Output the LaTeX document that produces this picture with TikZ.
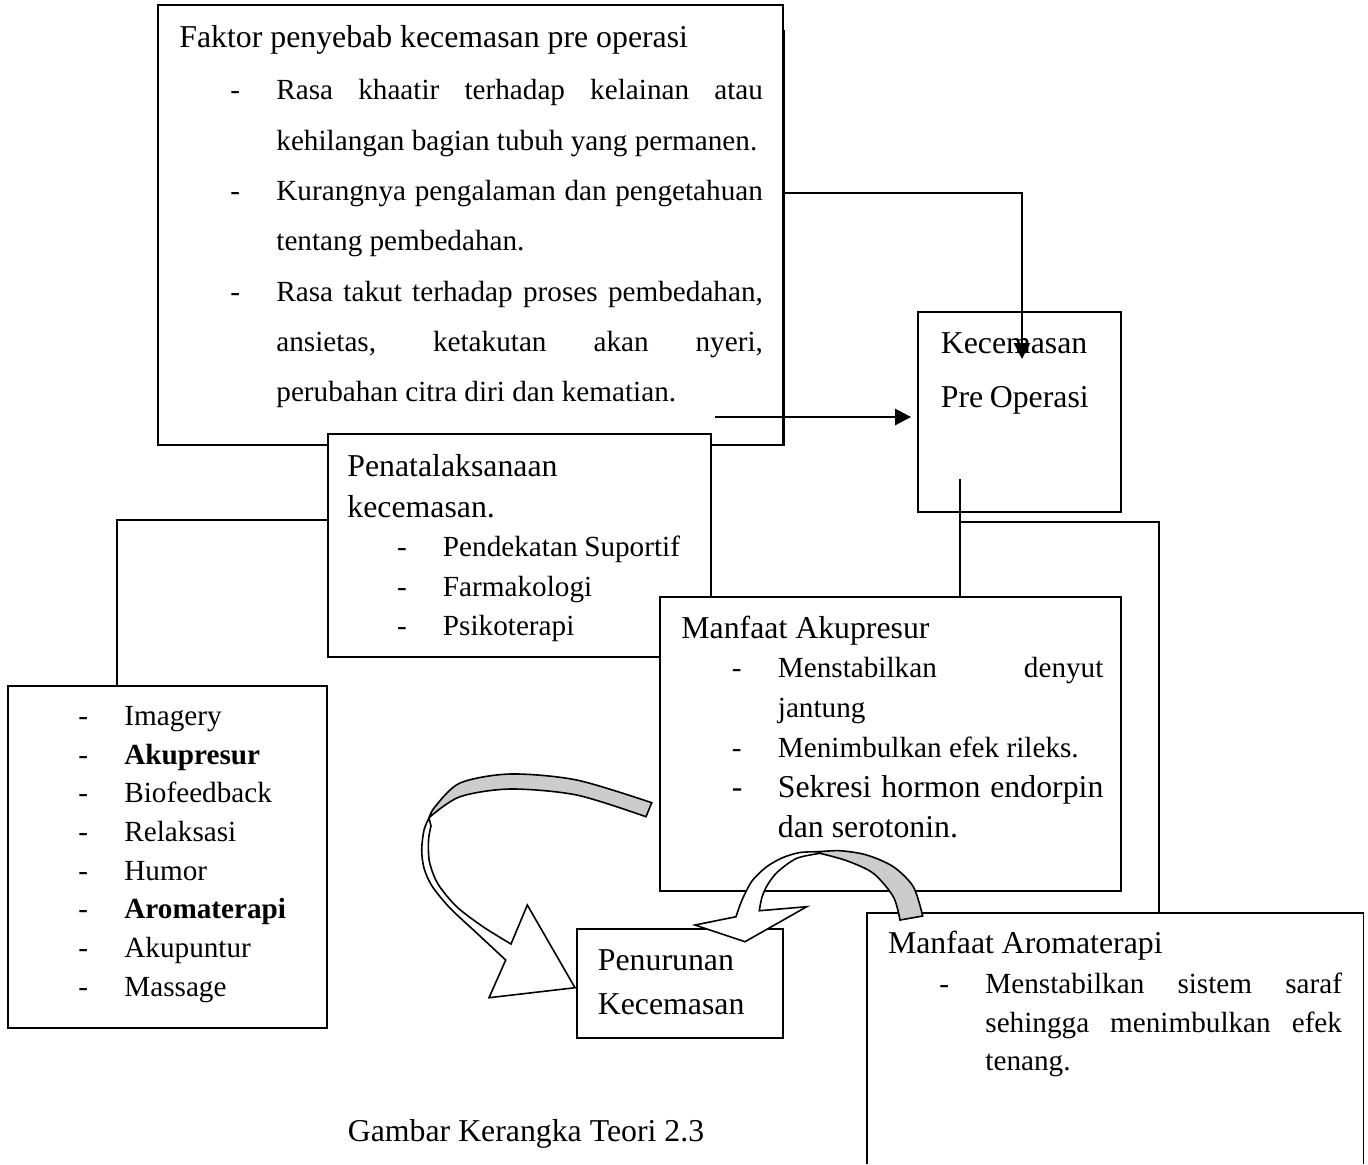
\documentclass[tikz,border=0pt]{standalone}
\usepackage{fontspec}
\setmainfont{Liberation Serif}
\usetikzlibrary{arrows.meta,fit}

\pretolerance=10000
\tolerance=10000
\hbadness=10000
\hyphenpenalty=10000

\newcommand{\tsize}[1]{\fontsize{15.9}{#1}\selectfont}
\newcommand{\isize}[1]{\fontsize{14.6}{#1}\selectfont}
\newcommand{\fb}{\rule{0pt}{13pt}}
\newcommand{\dashitem}[1]{\noindent\llap{\makebox[23pt][l]{-}}#1\par}

\begin{document}
\begin{tikzpicture}[x=0.5pt, y=-0.5pt,
  frame/.style={draw, line width=0.9pt, fill=white, inner sep=0pt},
  txt/.style={anchor=north west, inner sep=0pt, align=justify},
  conn/.style={line width=1.3pt},
  arrow/.style={conn, -{Triangle[length=8pt,width=8pt]}},
  backface/.style={fill=gray!40, draw, line width=0.8pt},
  frontface/.style={fill=white, draw, line width=0.8pt}]
  \useasboundingbox (0,0) rectangle (1368,1164);
  % boxes
  \node[frame, fit={(158,5) (783,445)}] (faktor) {};
  \node[frame, fit={(918,312) (1121,512)}] (kecem) {};
  \node[frame, fit={(328,434) (711,657)}] (penata) {};
  \node[frame, fit={(8,686) (327,1028)}] (metode) {};
  \node[frame, fit={(660,597) (1121,891)}] (akupresur) {};
  \node[frame, fit={(577,929) (783,1038)}] (penurunan) {};
  \node[inner sep=0pt, fit={(867,913) (1363,1164)}] (aroma) {};
  \draw[line width=0.9pt] (aroma.south west) |- (aroma.north east) -- (aroma.south east);
  % texts
  \node[txt, text width=291.75pt] (faktortxt) at (179,20.7) {%
    \tsize{25}\fb Faktor penyebab kecemasan pre operasi\par
    \isize{25.15}\vspace{1.2pt}\leftskip=48.5pt
    \dashitem{Rasa khaatir terhadap kelainan atau\linebreak kehilangan bagian tubuh yang permanen.}
    \dashitem{Kurangnya pengalaman dan pengetahuan\linebreak tentang pembedahan.}
    \dashitem{Rasa takut terhadap proses pembedahan,\linebreak ansietas, ketakutan akan nyeri,\linebreak perubahan citra diri dan kematian.}};
  \node[txt, align=left, text width=90pt] (kecemtxt) at (940.4,327.3) {%
    \tsize{27}\fb Kecemasan\\Pre Operasi\par};
  \node[txt, align=left, text width=175pt] (penatatxt) at (347,450) {%
    \tsize{20.5}\fb Penatalaksanaan\\kecemasan.\par
    \isize{19.75}\leftskip=47.8pt
    \dashitem{Pendekatan Suportif}
    \dashitem{Farmakologi}
    \dashitem{Psikoterapi}};
  \node[txt, align=left, text width=120pt] (metodetxt) at (78,699) {%
    \isize{19.35}\leftskip=23pt
    \dashitem{\fb Imagery}
    \dashitem{\textbf{Akupresur}}
    \dashitem{Biofeedback}
    \dashitem{Relaksasi}
    \dashitem{Humor}
    \dashitem{\textbf{Aromaterapi}}
    \dashitem{Akupuntur}
    \dashitem{Massage}};
  \node[txt, text width=211pt] (akupresurtxt) at (681,611.6) {%
    \tsize{20}\fb Manfaat Akupresur\par
    \isize{19.85}\leftskip=48.25pt
    \dashitem{Menstabilkan denyut\linebreak jantung}
    \dashitem{Menimbulkan efek rileks.}
    \tsize{20.2}\dashitem{Sekresi hormon endorpin\linebreak dan serotonin.}};
  \node[txt, align=left, text width=90pt] (penuruntxt) at (597.5,944) {%
    \tsize{22}\fb Penurunan\\Kecemasan\par};
  \node[txt, text width=227pt] (aromatxt) at (887.6,926.6) {%
    \tsize{20}\fb Manfaat Aromaterapi\par
    \isize{19.25}\vspace{1pt}\leftskip=48.7pt
    \dashitem{Menstabilkan sistem saraf\linebreak sehingga menimbulkan efek\linebreak tenang.}};
  \node[anchor=base, font=\tsize{20}] (caption) at (526,1141) {Gambar Kerangka Teori 2.3};
  % connectors
  \coordinate (fk) at (783,193);
  \coordinate (kt) at (1022,359);
  \coordinate (fa) at (715,417);
  \coordinate (kd) at (960,479);
  \coordinate (kb) at (960,522);
  \coordinate (kr) at (1159,522);
  \coordinate (pl) at (117,520);
  \draw[conn] ([yshift=-13pt]faktor.north east) -- (faktor.south east);
  \draw[arrow] (fk) -| (kt);
  \draw[arrow, shorten >=3pt] (fa) -- (fa -| kecem.west);
  \draw[conn] (kd) -- (kd |- akupresur.north);
  \draw[conn] (kb) -- (kr) -- (kr |- aroma.north);
  \draw[conn] (pl -| penata.west) -- (pl) -- (pl |- metode.north);
  % curved arrows
  \filldraw[backface] plot[smooth] coordinates {(651.7,802.7) (576.7,780) (510,774) (460,783) (435,806.7) (429,818)}
    -- plot[smooth] coordinates {(431,816) (460,796.7) (510,789) (576.7,795) (646,816.7)} -- cycle;
  \filldraw[frontface] plot[smooth] coordinates {(429,818) (424,830) (421.7,850) (424,868) (432,886) (450,908) (476.7,933) (505.7,960)}
    -- (489,997.7) -- (575,987.7) -- (527.3,905)
    -- plot[smooth] coordinates {(511,944) (483,926.7) (456.7,906.7) (438,884) (429.5,862) (428.5,840) (431,826)} -- cycle;
  \filldraw[backface] plot[smooth] coordinates {(818,851.8) (840,850.7) (866.7,855) (893.3,866.7) (913.3,886.7) (922.7,916)}
    -- plot[smooth] coordinates {(900,920) (893.3,896.7) (873.3,873.3) (846.7,860.7) (820,853.3)} -- cycle;
  \filldraw[frontface] plot[smooth] coordinates {(820,851.7) (800,852.5) (783,857.5) (766.7,866.7) (752,881) (742,900) (736,916.7)}
    -- (695,925) -- (745,941.7) -- (806.7,906.7)
    -- plot[smooth] coordinates {(759.3,910.7) (762,897) (768,884) (778,871.5) (796.7,858.3) (820,853.3)} -- cycle;
\end{tikzpicture}
\end{document}
